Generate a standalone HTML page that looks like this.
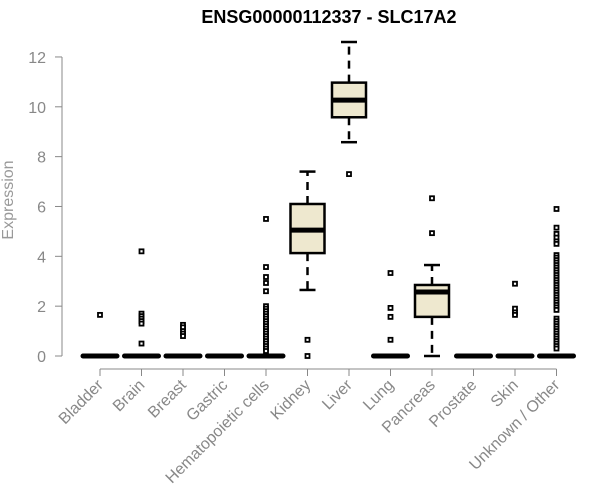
<!DOCTYPE html>
<html><head><meta charset="utf-8"><style>
body{margin:0;background:#fff;}
svg{display:block;font-family:"Liberation Sans",Arial,sans-serif;}
</style></head><body>
<svg id="chart" width="600" height="500" viewBox="0 0 600 500"></svg>
<script>
const categories=["Bladder","Brain","Breast","Gastric","Hematopoietic cells","Kidney","Liver","Lung","Pancreas","Prostate","Skin","Unknown / Other"];
const lowWhisker=[0,0,0,0,0,2.65,8.58,0,0,0,0,0];
const q1=[0,0,0,0,0,4.13,9.58,0,1.57,0,0,0];
const medians=[0,0,0,0,0,5.05,10.27,0,2.57,0,0,0];
const q3=[0,0,0,0,0,6.1,10.97,0,2.85,0,0,0];
const highWhisker=[0,0,0,0,0,7.4,12.6,0,3.65,0,0,0];
const outliers=[
 [1.65],
 [4.2,1.7,1.6,1.5,1.4,1.3,0.5],
 [1.25,1.15,1.0,0.9,0.8],
 [],
 [5.5,3.57,3.17,2.93,2.6,2.0,1.9,1.8,1.7,1.6,1.5,1.4,1.3,1.2,1.1,1.0,0.9,0.8,0.7,0.6,0.5,0.4,0.3,0.2],
 [0.65,0],
 [7.3],
 [3.33,1.93,1.57,0.65],
 [6.33,4.93],
 [],
 [2.9,1.9,1.75,1.65],
 [5.9,5.15,4.9,4.75,4.6,4.5,4.05,3.95,3.85,3.75,3.65,3.55,3.45,3.35,3.25,3.15,3.05,2.95,2.85,2.75,2.65,2.55,2.45,2.35,2.25,2.15,2.05,1.95,1.85,1.5,1.4,1.3,1.2,1.1,1.0,0.9,0.8,0.7,0.6,0.5,0.4,0.3]
];
const yTicks=[0,2,4,6,8,10,12];
const NS="http://www.w3.org/2000/svg";
const svg=document.getElementById('chart');
const xS=i=>100+41.5*i;
const yS=v=>356-24.92*v;
function el(t,a,p){const e=document.createElementNS(NS,t);for(const k in a)e.setAttribute(k,a[k]);(p||svg).appendChild(e);return e;}
const t=el('text',{x:329,y:23,'text-anchor':'middle','font-size':18,'font-weight':'bold',fill:'#000'});t.textContent="ENSG00000112337 - SLC17A2";


const ya=el('line',{x1:62,x2:62,y1:yS(0),y2:yS(12),stroke:'#888','stroke-width':1});


yTicks.forEach(v=>{
 const tk=el('line',{x1:55,x2:62,y1:yS(v),y2:yS(v),stroke:'#888'});
 
 
 const lb=el('text',{x:46,y:yS(v)+6,'text-anchor':'end','font-size':16,fill:'#888'});lb.textContent=v;
 
 
});
const yl=el('text',{x:13,y:200,'text-anchor':'middle','font-size':16,fill:'#999',transform:'rotate(-90 13 200)'});yl.textContent="Expression";


const xa=el('line',{x1:xS(0),x2:xS(11),y1:369,y2:369,stroke:'#888'});


categories.forEach((c,i)=>{
 const x=xS(i);
 const tk=el('line',{x1:x,x2:x,y1:369,y2:376,stroke:'#888'});
 
 
 const lb=el('text',{x:x+4,y:386,'text-anchor':'end','font-size':16,fill:'#888',transform:`rotate(-45 ${x+4} 386)`});lb.textContent=c;
 
 
 const g=el('g',{});
 
 
 const hw=17;
 if(highWhisker[i]>q3[i]){
  el('line',{x1:x,x2:x,y1:yS(q3[i]),y2:yS(highWhisker[i]),stroke:'#000','stroke-width':2.5,'stroke-dasharray':'8 6'},g);
  el('line',{x1:x-8,x2:x+8,y1:yS(highWhisker[i]),y2:yS(highWhisker[i]),stroke:'#000','stroke-width':2.5},g);
 }
 if(lowWhisker[i]<q1[i]){
  el('line',{x1:x,x2:x,y1:yS(q1[i]),y2:yS(lowWhisker[i]),stroke:'#000','stroke-width':2.5,'stroke-dasharray':'8 6'},g);
  el('line',{x1:x-8,x2:x+8,y1:yS(lowWhisker[i]),y2:yS(lowWhisker[i]),stroke:'#000','stroke-width':2.5},g);
 }
 if(q3[i]>q1[i]){
  el('rect',{x:x-hw,y:yS(q3[i]),width:2*hw,height:yS(q1[i])-yS(q3[i]),fill:'#EEE8CF',stroke:'#000','stroke-width':2.5},g);
 }
 el('line',{x1:x-hw,x2:x+hw,y1:yS(medians[i]),y2:yS(medians[i]),stroke:'#000','stroke-width':5,'stroke-linecap':q3[i]>q1[i]?'butt':'round'},g);
 outliers[i].forEach(v=>{
  const p=el('rect',{x:x-2,y:yS(v)-2,width:4,height:4,fill:'#fff',stroke:'#000','stroke-width':1.8},g);
  
  
 });
});
</script>
</body></html>
